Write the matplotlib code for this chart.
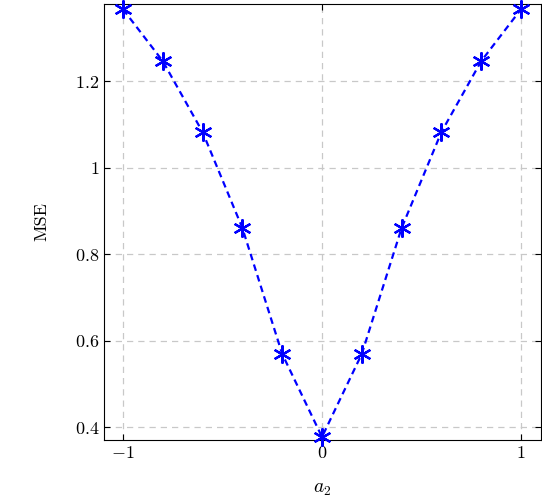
import matplotlib
matplotlib.use("Agg")
import matplotlib.pyplot as plt

plt.rcParams['font.family'] = 'serif'
plt.rcParams['font.serif'] = ['cmr10', 'DejaVu Serif']
plt.rcParams['mathtext.fontset'] = 'cm'
plt.rcParams['axes.formatter.use_mathtext'] = True

a2 = [-1.0, -0.8, -0.6, -0.4, -0.2, 0.0, 0.2, 0.4, 0.6, 0.8, 1.0]
mse = [1.366, 1.246, 1.082, 0.860, 0.569, 0.377, 0.569, 0.860, 1.082, 1.246, 1.366]

xticks = [-1, 0, 1]
xlabels = ['$-1$', '$0$', '$1$']
yticks = [0.4, 0.6, 0.8, 1.0, 1.2]
ylabels = ['$0.4$', '$0.6$', '$0.8$', '$1$', '$1.2$']

fig = plt.figure(figsize=(5.42, 5.04), dpi=100)
ax = fig.add_axes([0.192, 0.127, 0.806, 0.865])
ax.plot(a2, mse, color='blue', linestyle='--', linewidth=1.6, marker=(6, 2, 0),
        markersize=13, markeredgewidth=1.6, dashes=(3, 2), clip_on=False, zorder=3)
ax.set_xlim(-1.095, 1.1)
ax.set_ylim(0.37, 1.378)
ax.set_xticks(xticks)
ax.set_xticklabels(xlabels, fontsize=13)
ax.set_yticks(yticks)
ax.set_yticklabels(ylabels, fontsize=13)
ax.tick_params(direction='in', top=True, right=True, length=4)
ax.grid(True, color='#c8c8c8', linestyle=(0, (5, 4)), linewidth=0.9)
ax.set_xlabel('$a_2$', fontsize=14, labelpad=14)
ax.set_ylabel('MSE', fontsize=13, labelpad=18)
fig.savefig('out.png', dpi=100)
